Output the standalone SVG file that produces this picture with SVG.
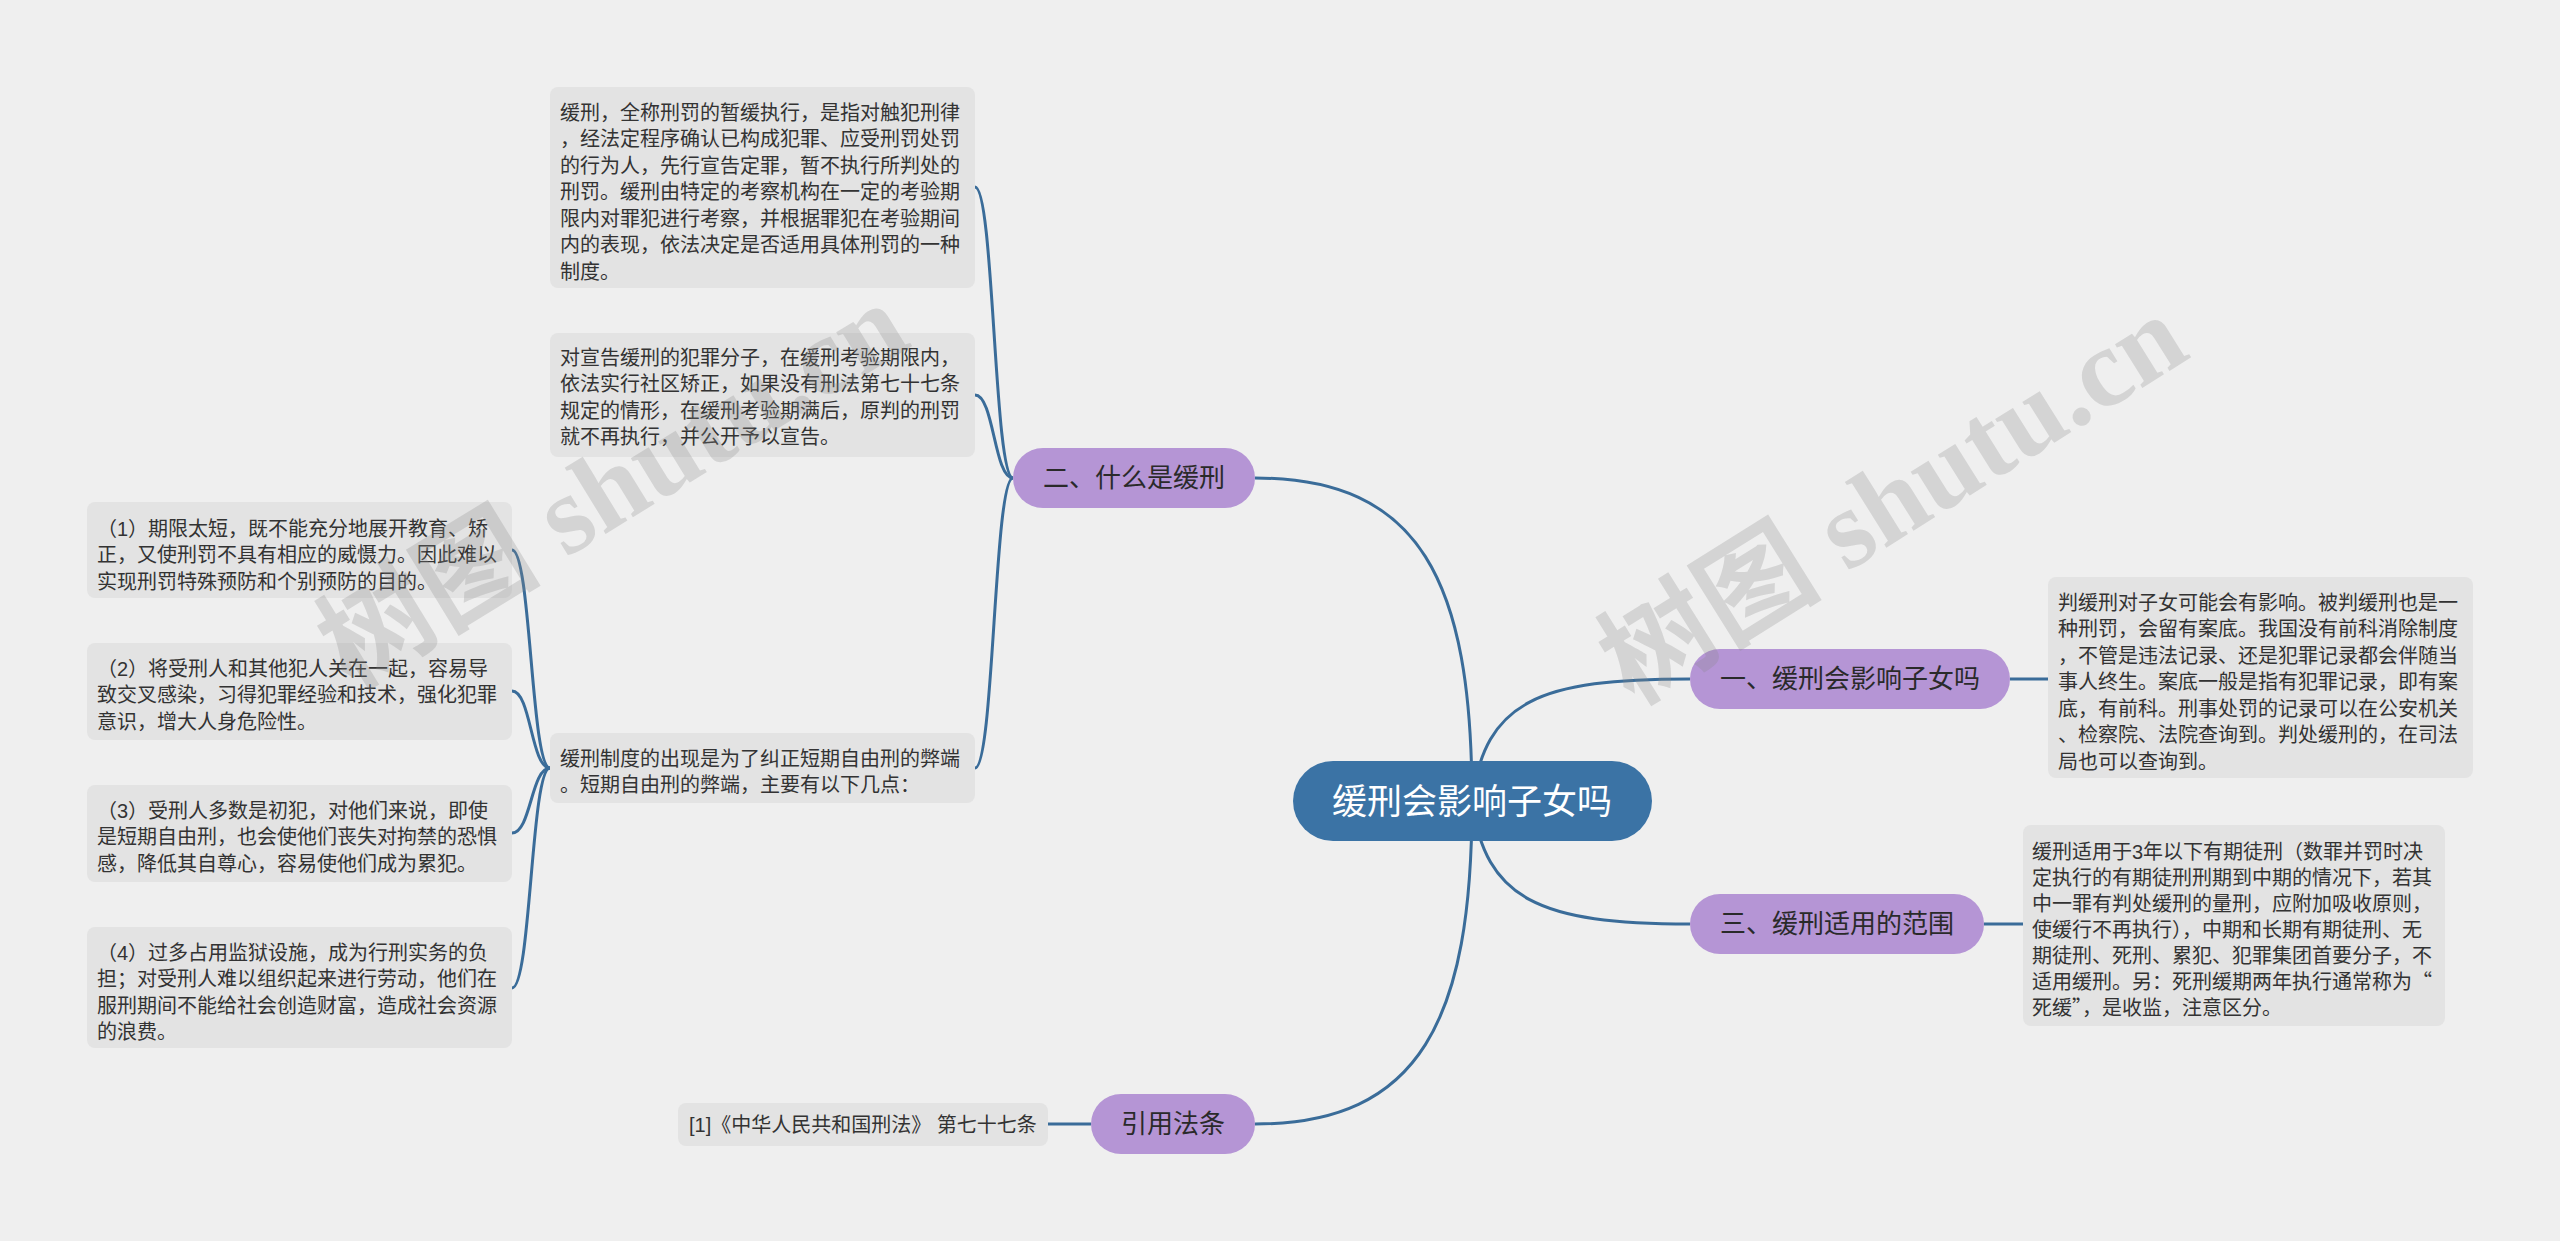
<svg xmlns="http://www.w3.org/2000/svg" width="2560" height="1241" viewBox="0 0 2560 1241">
<style>
.bg{fill:#efefef}
.conn{fill:none;stroke:#3a6c99;stroke-width:3}
.box{fill:#e3e3e3}
.t{font-family:"Liberation Sans","Noto Sans CJK SC",sans-serif;font-size:20px;fill:#333}
.cjk{font-family:"Noto Sans CJK SC",sans-serif}
.sub{fill:#b595d5}
.st{font-family:"Liberation Sans","Noto Sans CJK SC",sans-serif;font-size:26px;fill:#2a2a2a;text-anchor:middle}
.root{fill:#3b73a5}
.rt{font-family:"Liberation Sans","Noto Sans CJK SC",sans-serif;font-size:35px;fill:#fff;text-anchor:middle}
.wm{font-family:"Liberation Serif","Noto Sans CJK SC",serif;font-size:112px;font-weight:bold;fill:#888;fill-opacity:0.26}
</style>
<rect class="bg" x="0" y="0" width="2560" height="1241"/>
<g id="connectors">
<path class="conn" d="M1472,801 C1472,580 1420,478 1255,478"/>
<path class="conn" d="M1472,801 C1485,700 1540,679 1690,679"/>
<path class="conn" d="M1472,801 C1485,900 1540,924 1690,924"/>
<path class="conn" d="M1472,801 C1472,1020 1420,1124 1255,1124"/>
<path class="conn" d="M1013,478 C994,478 994,187 975,187"/>
<path class="conn" d="M1013,478 C994,478 994,395 975,395"/>
<path class="conn" d="M1013,478 C994,478 994,768 975,768"/>
<path class="conn" d="M550,768 C531,768 531,550 512,550"/>
<path class="conn" d="M550,768 C531,768 531,691 512,691"/>
<path class="conn" d="M550,768 C531,768 531,833 512,833"/>
<path class="conn" d="M550,768 C531,768 531,988 512,988"/>
<path class="conn" d="M2010,679 L2048,679"/>
<path class="conn" d="M1984,924 L2023,924"/>
<path class="conn" d="M1091,1124 L1048,1124"/>
</g>
<g id="root">
<rect class="root" x="1293" y="761" width="359" height="80" rx="40"/>
<text class="rt" x="1472" y="814">缓刑会影响子女吗</text>
</g>
<g id="n2">
<rect class="sub" x="1013" y="448" width="242" height="60" rx="30"/>
<text class="st" x="1134" y="487">二、什么是缓刑</text>
</g>
<g id="n1">
<rect class="sub" x="1690" y="649" width="320" height="60" rx="30"/>
<text class="st" x="1850" y="688">一、缓刑会影响子女吗</text>
</g>
<g id="n3">
<rect class="sub" x="1690" y="894" width="294" height="60" rx="30"/>
<text class="st" x="1837" y="933">三、缓刑适用的范围</text>
</g>
<g id="n4">
<rect class="sub" x="1091" y="1094" width="164" height="60" rx="30"/>
<text class="st" x="1173" y="1133">引用法条</text>
</g>
<g id="boxA">
<rect class="box" x="550" y="87" width="425" height="201" rx="8"/>
<text class="t" x="560" y="119.5">缓刑，全称刑罚的暂缓执行，是指对触犯刑律</text>
<text class="t" x="560" y="146">，经法定程序确认已构成犯罪、应受刑罚处罚</text>
<text class="t" x="560" y="172.5">的行为人，先行宣告定罪，暂不执行所判处的</text>
<text class="t" x="560" y="199">刑罚。缓刑由特定的考察机构在一定的考验期</text>
<text class="t" x="560" y="225.5">限内对罪犯进行考察，并根据罪犯在考验期间</text>
<text class="t" x="560" y="252">内的表现，依法决定是否适用具体刑罚的一种</text>
<text class="t" x="560" y="278.5">制度。</text>
</g>
<g id="boxB">
<rect class="box" x="550" y="333" width="425" height="124" rx="8"/>
<text class="t" x="560" y="364.5">对宣告缓刑的犯罪分子，在缓刑考验期限内，</text>
<text class="t" x="560" y="391">依法实行社区矫正，如果没有刑法第七十七条</text>
<text class="t" x="560" y="417.5">规定的情形，在缓刑考验期满后，原判的刑罚</text>
<text class="t" x="560" y="444">就不再执行，并公开予以宣告。</text>
</g>
<g id="boxC">
<rect class="box" x="550" y="733" width="425" height="70" rx="8"/>
<text class="t" x="560" y="765.5">缓刑制度的出现是为了纠正短期自由刑的弊端</text>
<text class="t" x="560" y="792">。短期自由刑的弊端，主要有以下几点：</text>
</g>
<g id="boxD1">
<rect class="box" x="87" y="502" width="425" height="96" rx="8"/>
<text class="t" x="97" y="535.5">（1）期限太短，既不能充分地展开教育、矫</text>
<text class="t" x="97" y="562">正，又使刑罚不具有相应的威慑力。因此难以</text>
<text class="t" x="97" y="588.5">实现刑罚特殊预防和个别预防的目的。</text>
</g>
<g id="boxD2">
<rect class="box" x="87" y="643" width="425" height="97" rx="8"/>
<text class="t" x="97" y="675.5">（2）将受刑人和其他犯人关在一起，容易导</text>
<text class="t" x="97" y="702">致交叉感染，习得犯罪经验和技术，强化犯罪</text>
<text class="t" x="97" y="728.5">意识，增大人身危险性。</text>
</g>
<g id="boxD3">
<rect class="box" x="87" y="785" width="425" height="97" rx="8"/>
<text class="t" x="97" y="817.5">（3）受刑人多数是初犯，对他们来说，即使</text>
<text class="t" x="97" y="844">是短期自由刑，也会使他们丧失对拘禁的恐惧</text>
<text class="t" x="97" y="870.5">感，降低其自尊心，容易使他们成为累犯。</text>
</g>
<g id="boxD4">
<rect class="box" x="87" y="927" width="425" height="121" rx="8"/>
<text class="t" x="97" y="959.5">（4）过多占用监狱设施，成为行刑实务的负</text>
<text class="t" x="97" y="986">担；对受刑人难以组织起来进行劳动，他们在</text>
<text class="t" x="97" y="1012.5">服刑期间不能给社会创造财富，造成社会资源</text>
<text class="t" x="97" y="1039">的浪费。</text>
</g>
<g id="boxE">
<rect class="box" x="2048" y="577" width="425" height="201" rx="8"/>
<text class="t" x="2058" y="609.5">判缓刑对子女可能会有影响。被判缓刑也是一</text>
<text class="t" x="2058" y="636">种刑罚，会留有案底。我国没有前科消除制度</text>
<text class="t" x="2058" y="662.5">，不管是违法记录、还是犯罪记录都会伴随当</text>
<text class="t" x="2058" y="689">事人终生。案底一般是指有犯罪记录，即有案</text>
<text class="t" x="2058" y="715.5">底，有前科。刑事处罚的记录可以在公安机关</text>
<text class="t" x="2058" y="742">、检察院、法院查询到。判处缓刑的，在司法</text>
<text class="t" x="2058" y="768.5">局也可以查询到。</text>
</g>
<g id="boxF">
<rect class="box" x="2023" y="825" width="422" height="201" rx="8"/>
<text class="t" x="2032" y="858.5">缓刑适用于3年以下有期徒刑（数罪并罚时决</text>
<text class="t" x="2032" y="884.5">定执行的有期徒刑刑期到中期的情况下，若其</text>
<text class="t" x="2032" y="910.5">中一罪有判处缓刑的量刑，应附加吸收原则，</text>
<text class="t" x="2032" y="936.5">使缓行不再执行），中期和长期有期徒刑、无</text>
<text class="t" x="2032" y="962.5">期徒刑、死刑、累犯、犯罪集团首要分子，不</text>
<text class="t" x="2032" y="988.5">适用缓刑。另：死刑缓期两年执行通常称为<tspan class="cjk">“</tspan></text>
<text class="t" x="2032" y="1014.5">死缓<tspan class="cjk">”</tspan>，是收监，注意区分。</text>
</g>
<g id="boxG">
<rect class="box" x="678" y="1103" width="370" height="43" rx="8"/>
<text class="t" x="689" y="1131.5">[1]《中华人民共和国刑法》 第七十七条</text>
</g>
<g id="watermarks">
<text class="wm" transform="translate(351,690) rotate(-31.5)">树图 shutu.cn</text>
<text class="wm" transform="translate(1633,706) rotate(-32)">树图 shutu.cn</text>
</g>
</svg>
